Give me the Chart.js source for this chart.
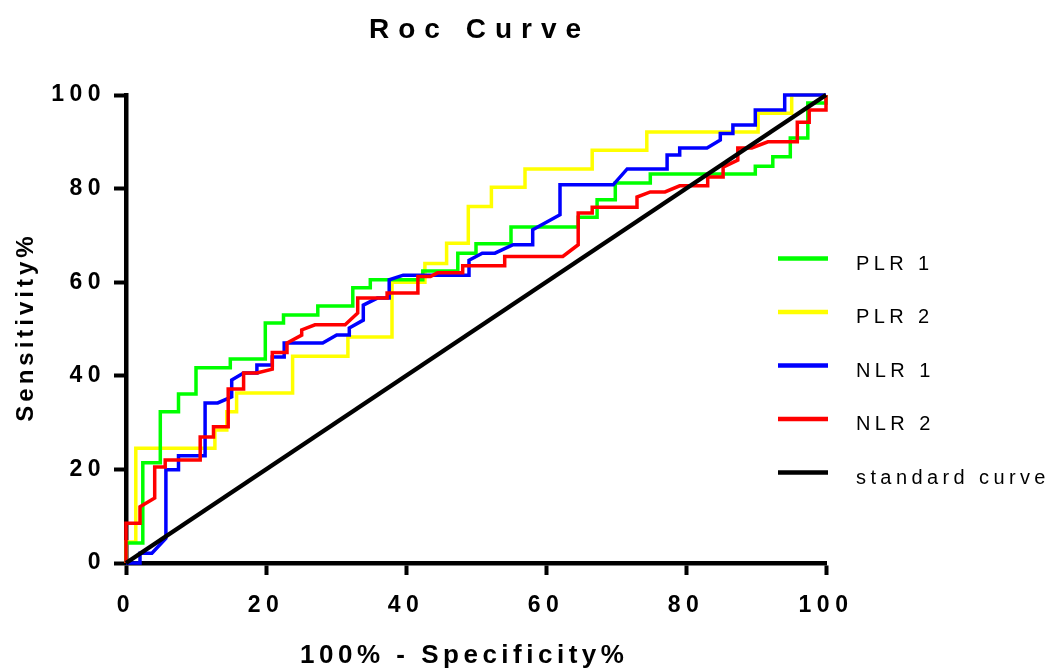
<!DOCTYPE html>
<html>
<head>
<meta charset="utf-8">
<script src="https://cdn.jsdelivr.net/npm/chart.js@4/dist/chart.umd.min.js"></script>
<style>
  html, body { margin: 0; padding: 0; background: #ffffff; }
  canvas { display: block; }
</style>
</head>
<body>
<canvas id="c" width="1048" height="668"></canvas>
<script>
// ---- data ----
const titleText = 'Roc Curve';
const xTitle = '100% - Specificity%';
const yTitle = 'Sensitivity%';
const xTicks = [0, 20, 40, 60, 80, 100];
const yTicks = [0, 20, 40, 60, 80, 100];

const seriesLabels = ['PLR 1', 'PLR 2', 'NLR 1', 'NLR 2', 'standard curve'];
const seriesColors = ['#00ff00', '#ffff00', '#0000ff', '#ff0000', '#000000'];

const plr1X = [0,0,2.4,2.4,4.9,4.9,7.5,7.5,10,10,14.9,14.9,19.9,19.9,22.5,22.5,27.4,27.4,32.4,32.4,34.9,34.9,42.4,42.4,47.4,47.4,50,50,55,55,64.6,64.6,67.3,67.3,69.9,69.9,74.9,74.9,89.9,89.9,92.4,92.4,94.9,94.9,97.4,97.4,100,100];
const plr1Y = [0,4.3,4.3,21.4,21.4,32.3,32.3,36.1,36.1,41.7,41.7,43.6,43.6,51.3,51.3,53,53,54.9,54.9,58.8,58.8,60.5,60.5,62.4,62.4,66.2,66.2,68.2,68.2,71.8,71.8,73.9,73.9,77.6,77.6,81.2,81.2,83.1,83.1,84.8,84.8,86.8,86.8,90.8,90.8,98.3,98.3,100];

const plr2X = [0,0,1.4,1.4,12.7,12.7,14.4,14.4,15.8,15.8,23.8,23.8,31.7,31.7,38,38,42.7,42.7,45.8,45.8,48.9,48.9,52.2,52.2,57,57,66.6,66.6,74.4,74.4,90.3,90.3,95.1,95.1,100];
const plr2Y = [0,4.5,4.5,24.5,24.5,28.4,28.4,32.3,32.3,36.3,36.3,44.2,44.2,48.3,48.3,60,60,64,64,68.3,68.3,76.2,76.2,80.3,80.3,84.2,84.2,88.2,88.2,92.1,92.1,96.1,96.1,100,100];

const nlr1X = [0,2,2,3.7,5.7,5.7,7.5,7.5,11.3,11.3,13.1,15.1,15.1,16.8,18.7,18.7,20.9,20.9,22.6,22.6,28.1,30.1,31.9,31.9,33.9,33.9,35.9,37.6,37.6,39.6,49,49,50.9,52.7,55.3,58.1,58.1,62,62,69.6,71.6,77.3,77.3,79.1,79.1,83,84.9,84.9,86.7,86.7,89.9,89.9,94.1,94.1,100];
const nlr1Y = [0,0,2.1,2.1,5.3,19.9,19.9,22.9,22.9,34.2,34.2,35.5,39.1,40.6,40.6,42.3,42.3,44,44,47,47,48.7,48.7,50.2,51.9,55.1,56.6,56.6,60.5,61.5,61.5,64.7,66.2,66.2,68,68,71.2,74.4,80.8,80.8,84.2,84.2,87.2,87.2,88.7,88.7,90.4,91.8,91.8,93.6,93.6,96.8,96.8,100,100];

const nlr2X = [0,0,2,2,4.1,4.1,5.6,5.6,10.6,10.6,12.5,12.5,14.6,14.6,16.8,16.8,18.7,20.9,20.9,23,23,25.1,25.1,27,31.3,33.1,33.1,37.3,37.3,41.7,41.7,43.5,44.5,48.1,48.1,54.1,54.1,62.4,64.6,64.6,66.6,66.6,73,73,74.9,77,79.1,83.1,83.1,85.3,85.3,87.4,87.4,89.4,91.7,95.9,95.9,97.6,97.6,100,100];
const nlr2Y = [0,8.5,8.5,12,13.9,20.5,20.5,22,22,26.9,26.9,29.1,29.1,37.2,37.2,40.6,40.6,41.4,45,45,47,48.7,49.8,50.9,50.9,53.4,56.6,56.6,57.7,57.7,61.2,61.2,62,62,63.5,63.5,65.5,65.5,68,74.8,74.8,76,76,78.2,79.3,79.3,80.6,80.6,82.5,82.5,84.6,86.1,88.7,88.7,90,90,94.2,94.2,96.8,96.8,100];

const refX = [0, 100];
const refY = [0, 100];

// ---- helpers ----
function pts(xs, ys) { return xs.map((x, i) => ({ x: x, y: ys[i] })); }

const FONT = "'Liberation Sans', Arial, sans-serif";

function spacedText(ctx, text, x, y, spacing, align) {
  ctx.letterSpacing = spacing + 'px';
  const w = ctx.measureText(text).width - spacing;
  let sx = x;
  if (align === 'center') sx = x - w / 2;
  else if (align === 'right') sx = x - w;
  ctx.textAlign = 'left';
  ctx.fillText(text, sx, y);
}

const textPlugin = {
  id: 'textPlugin',
  beforeDraw(chart) {
    chart.ctx.letterSpacing = '5.5px';
  },
  afterDraw(chart) {
    const ctx = chart.ctx;
    const area = chart.chartArea;
    ctx.save();
    ctx.fillStyle = '#000';
    ctx.textBaseline = 'alphabetic';
    // title
    ctx.font = 'bold 28px ' + FONT;
    spacedText(ctx, titleText, 475, 38, 9, 'center');
    // x title
    ctx.font = 'bold 26px ' + FONT;
    spacedText(ctx, xTitle, 462, 663, 4.5, 'center');
    // y title
    ctx.save();
    ctx.translate(33, (area.top + area.bottom) / 2);
    ctx.rotate(-Math.PI / 2);
    ctx.font = 'bold 24px ' + FONT;
    spacedText(ctx, yTitle, 0, 0, 4, 'center');
    ctx.restore();
    // legend
    const x0 = 778, x1 = 828, tx = 856, y0 = 258.5, dy = 53.5;
    chart.data.datasets.forEach((ds, i) => {
      const yy = y0 + i * dy;
      ctx.strokeStyle = ds.borderColor;
      ctx.lineWidth = 4.5;
      ctx.lineCap = 'butt';
      ctx.beginPath();
      ctx.moveTo(x0, yy);
      ctx.lineTo(x1, yy);
      ctx.stroke();
      ctx.fillStyle = '#000';
      ctx.font = '20px ' + FONT;
      spacedText(ctx, ds.label, tx, yy + 11, 4.4, 'left');
    });
    ctx.restore();
    ctx.letterSpacing = '0px';
  }
};

const seriesXs = [plr1X, plr2X, nlr1X, nlr2X, refX];
const seriesYs = [plr1Y, plr2Y, nlr1Y, nlr2Y, refY];

const datasets = seriesLabels.map((lab, i) => ({
  label: lab,
  data: pts(seriesXs[i], seriesYs[i]),
  borderColor: seriesColors[i],
  backgroundColor: seriesColors[i],
  borderWidth: i === 4 ? 4.5 : 3.5,
  pointRadius: 0,
  tension: 0,
  fill: false,
  clip: false,
  order: [3, 4, 2, 1, 0][i]
}));

const tickFont = { family: FONT, weight: 'bold', size: 23 };

new Chart(document.getElementById('c'), {
  type: 'line',
  data: { datasets: datasets },
  plugins: [textPlugin],
  options: {
    responsive: false,
    animation: false,
    devicePixelRatio: 1,
    layout: { padding: { left: 0, right: 222, top: 95, bottom: 0 } },
    plugins: {
      legend: { display: false },
      title: { display: false },
      tooltip: { enabled: false }
    },
    scales: {
      x: {
        type: 'linear',
        min: 0, max: 100,
        afterFit(scale) { scale.height = 105; },
        afterBuildTicks(scale) { scale.ticks = xTicks.map(v => ({ value: v })); },
        border: { display: true, color: '#000', width: 4.5 },
        grid: { drawOnChartArea: false, drawTicks: true, tickLength: 12, tickWidth: 4, tickColor: '#000', color: '#000' },
        ticks: { color: '#000', font: tickFont, padding: 17, maxRotation: 0 }
      },
      y: {
        type: 'linear',
        min: 0, max: 100,
        afterFit(scale) { scale.width = 126; },
        afterBuildTicks(scale) { scale.ticks = yTicks.map(v => ({ value: v })); },
        border: { display: true, color: '#000', width: 4.5 },
        grid: { drawOnChartArea: false, drawTicks: true, tickLength: 12, tickWidth: 4, tickColor: '#000', color: '#000' },
        ticks: { color: '#000', font: tickFont, padding: 8 }
      }
    }
  }
});
</script>
</body>
</html>
